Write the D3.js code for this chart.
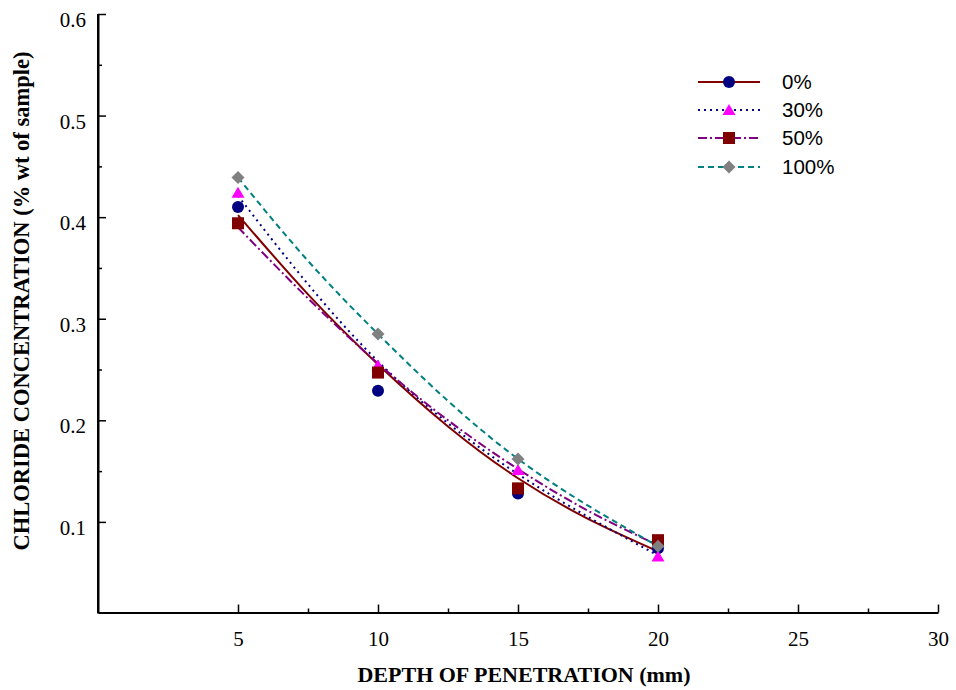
<!DOCTYPE html>
<html>
<head>
<meta charset="utf-8">
<script src="https://cdn.jsdelivr.net/npm/d3@7"></script>
<style>
  html, body { margin: 0; padding: 0; background: #fff; }
  svg { display: block; }
</style>
</head>
<body>
<svg id="chart" width="956" height="690"></svg>
<script>
// ---- data ----
const depths = [5, 10, 15, 20];
const seriesNames = ["0%", "30%", "50%", "100%"];
const values0 = [0.410, 0.229, 0.128, 0.074];
const values30 = [0.424, 0.254, 0.151, 0.066];
const values50 = [0.394, 0.247, 0.133, 0.082];
const values100 = [0.439, 0.285, 0.162, 0.076];
// fitted trend curves
const trendDepths = [5, 7.5, 10, 12.5, 15, 17.5, 20];
const trend0 = [0.402, 0.324, 0.255, 0.194, 0.143, 0.103, 0.071];
const trend30 = [0.421, 0.334, 0.258, 0.197, 0.147, 0.105, 0.067];
const trend50 = [0.390, 0.320, 0.256, 0.200, 0.152, 0.111, 0.077];
const trend100 = [0.439, 0.357, 0.285, 0.219, 0.162, 0.116, 0.076];
const xTicks = [5, 10, 15, 20, 25, 30];
const xMinorTicks = [7.5, 12.5, 17.5, 22.5, 27.5];
const yTicks = [0.1, 0.2, 0.3, 0.4, 0.5, 0.6];
const yMinorTicks = [0.15, 0.25, 0.35, 0.45, 0.55];

(function () {
// ---- styles ----
const styles = [
  { line: "#800000", dash: null, marker: "circle", mfill: "#000080" },
  { line: "#000080", dash: "2,4", marker: "triangle", mfill: "#FF00FF" },
  { line: "#800080", dash: "9,3,2,3", marker: "square", mfill: "#800000" },
  { line: "#008080", dash: "6,4", marker: "diamond", mfill: "#808080" }
];
const allValues = [values0, values30, values50, values100];
const allTrends = [trend0, trend30, trend50, trend100];

const svg = d3.select("#chart");
const pLeft = 98, pRight = 938, pTop = 14, pBottom = 612.5;

const x = d3.scaleLinear().domain([0, 30]).range([pLeft, pRight]);
const y = d3.scaleLinear().domain([0.0108, 0.6]).range([pBottom, pTop]);

const serif = "'Liberation Serif', 'Times New Roman', serif";
const sans = "'Liberation Sans', Arial, sans-serif";

// minor ticks
svg.append("g").attr("transform", `translate(0,${pBottom})`)
  .call(d3.axisBottom(x).tickValues(xMinorTicks).tickSize(-4).tickFormat(""))
  .call(g => g.select(".domain").remove())
  .selectAll("line").attr("stroke", "#000").attr("stroke-width", 1.5);
svg.append("g").attr("transform", `translate(${pLeft},0)`)
  .call(d3.axisLeft(y).tickValues(yMinorTicks).tickSize(-4).tickFormat(""))
  .call(g => g.select(".domain").remove())
  .selectAll("line").attr("stroke", "#000").attr("stroke-width", 1.5);

// major axes
const xAxis = svg.append("g").attr("transform", `translate(0,${pBottom})`)
  .call(d3.axisBottom(x).tickValues(xTicks).tickSize(-8).tickSizeOuter(0).tickPadding(19).tickFormat(d3.format("d")));
const yAxis = svg.append("g").attr("transform", `translate(${pLeft},0)`)
  .call(d3.axisLeft(y).tickValues(yTicks).tickSize(-8).tickSizeOuter(0).tickPadding(12).tickFormat(d3.format(".1f")));
[xAxis, yAxis].forEach(g => {
  g.select(".domain").attr("stroke", "#000").attr("stroke-width", 2);
  g.selectAll(".tick line").attr("stroke", "#000").attr("stroke-width", 1.5);
  g.selectAll(".tick text").attr("font-family", serif).attr("font-size", 21).attr("fill", "#000");
});
yAxis.selectAll(".tick text").attr("dy", "0.6em");
svg.append("line").attr("x1", pLeft).attr("x2", pLeft).attr("y1", pTop).attr("y2", pBottom + 1)
  .attr("stroke", "#000").attr("stroke-width", 2);

// axis titles
svg.append("text").attr("x", 524).attr("y", 682).attr("text-anchor", "middle")
  .attr("font-family", serif).attr("font-weight", "bold").attr("font-size", 22)
  .text("DEPTH OF PENETRATION (mm)");
svg.append("text").attr("transform", "translate(29,301) rotate(-90)").attr("text-anchor", "middle")
  .attr("font-family", serif).attr("font-weight", "bold").attr("font-size", 22.5)
  .text("CHLORIDE CONCENTRATION (% wt of sample)");

// trend lines
const line = d3.line().x(d => x(d[0])).y(d => y(d[1])).curve(d3.curveNatural);
allTrends.forEach((t, i) => {
  svg.append("path")
    .attr("d", line(trendDepths.map((d, j) => [d, t[j]])))
    .attr("fill", "none").attr("stroke", styles[i].line).attr("stroke-width", 2)
    .attr("stroke-dasharray", styles[i].dash);
});

// markers
function drawMarker(g, type, cx, cy, fill) {
  if (type === "circle") {
    g.append("circle").attr("cx", cx).attr("cy", cy).attr("r", 6).attr("fill", fill);
  } else if (type === "triangle") {
    g.append("path").attr("d", `M${cx},${cy - 6}L${cx + 6.5},${cy + 5}L${cx - 6.5},${cy + 5}Z`).attr("fill", fill);
  } else if (type === "square") {
    g.append("rect").attr("x", cx - 6).attr("y", cy - 6).attr("width", 12).attr("height", 12).attr("fill", fill);
  } else {
    g.append("path").attr("d", `M${cx},${cy - 6.5}L${cx + 6.5},${cy}L${cx},${cy + 6.5}L${cx - 6.5},${cy}Z`).attr("fill", fill);
  }
}
const mg = svg.append("g");
allValues.forEach((vals, i) => {
  vals.forEach((v, j) => drawMarker(mg, styles[i].marker, x(depths[j]), y(v), styles[i].mfill));
});

// legend
const legendY = [82, 110, 138, 167];
seriesNames.forEach((name, i) => {
  const g = svg.append("g");
  g.append("line").attr("x1", 698).attr("x2", 760).attr("y1", legendY[i]).attr("y2", legendY[i])
    .attr("stroke", styles[i].line).attr("stroke-width", 2).attr("stroke-dasharray", styles[i].dash);
  drawMarker(g, styles[i].marker, 729, legendY[i], styles[i].mfill);
  g.append("text").attr("x", 782).attr("y", legendY[i]).attr("dy", "0.36em")
    .attr("font-family", sans).attr("font-size", 20.5).text(name);
});
})();
</script>
</body>
</html>
